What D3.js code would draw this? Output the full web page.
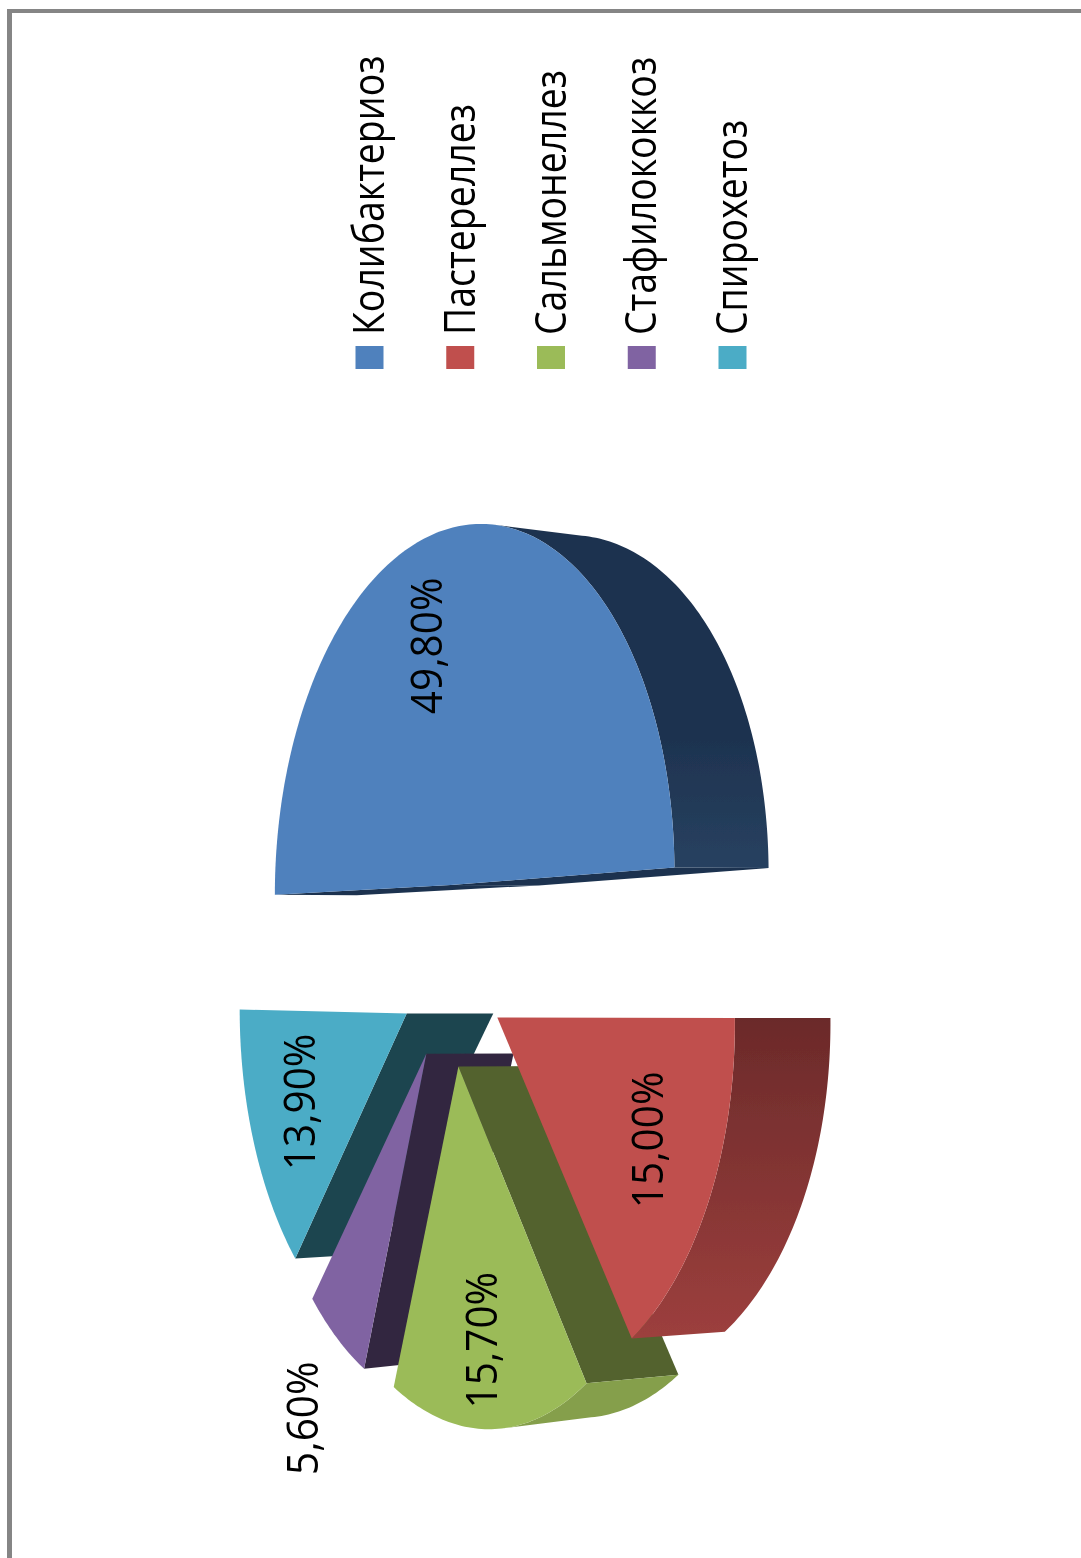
<!DOCTYPE html>
<html><head><meta charset="utf-8">
<script src="https://cdn.jsdelivr.net/npm/d3@7"></script>
<style>html,body{margin:0;padding:0;background:#fff}svg{display:block}text{font-family:"Open Sans",sans-serif;fill:#000}</style>
</head><body><div id="chart"></div>
<script>
// ---- data ----
const categories = ["Колибактериоз","Пастереллез","Сальмонеллез","Стафилококкоз","Спирохетоз"];
const values = [49.8,15.0,15.7,5.6,13.9];
const valueLabels = ["49,80%","15,00%","15,70%","5,60%","13,90%"];
const topColors = ["#4F81BD","#C0504D","#9BBB59","#8064A2","#4BACC6"];
const edgeColors = ["#1C3350","#6B2A2A","#52622E","#33273F","#1E454F"];
const rimFrom = ["#1E3350","#6B2A2A","#859F4B","#33273F","#1E454F"];
const rimTo = ["#284261","#9C3F3D","#859F4B","#33273F","#1E454F"];
const labelRadius = [0.695,0.723,0.758,1.341,0.68];
const labelTurn = [-10,-2,0,1.8,0.6];

// ---- layout ----
const W=1081,H=1558, explode=0.255, persp=0.12;
const sx=d3.scaleLinear().domain([0,1]).range([451,451+197]);
const sy=d3.scaleLinear().domain([0,1]).range([976,976-357]);
const depth=d3.scaleLinear().domain([-1.3,1.3]).range([80,96]);
function project(a,b,z){
  const w=1/(1-persp*b);
  const p=[sx(b*w), sy(a*w*(1-0.02*z*Math.abs(a)))];
  if(z) p[0]+=depth(b);
  return p;
}
const cross=(o,p,q)=>(p[0]-o[0])*(q[1]-o[1])-(p[1]-o[1])*(q[0]-o[0]);
const svg=d3.select("#chart").append("svg").attr("width",W).attr("height",H);
const defs=svg.append("defs");
defs.append("filter").attr("id","soft").attr("x",0).attr("y",0).attr("width",1).attr("height",1)
  .attr("filterUnits","objectBoundingBox")
  .append("feGaussianBlur").attr("stdDeviation",0.5);
const root=svg.append("g").attr("filter","url(#soft)");
root.append("rect").attr("width",W).attr("height",H).attr("fill","#fff");
// frame
root.append("rect").attr("x",7).attr("y",9).attr("width",W).attr("height",4).attr("fill","#858585");
root.append("rect").attr("x",7).attr("y",9).attr("width",5).attr("height",H).attr("fill","#858585");

const pie=d3.pie().sort(null).value(d=>d).startAngle(0).endAngle(2*Math.PI);
const arcs=pie(values);
const line=d3.line().curve(d3.curveLinear);
const order=[4,3,2,1,0];
order.forEach(i=>{
  const s=arcs[i], mid=(s.startAngle+s.endAngle)/2;
  const ca=Math.sin(mid)*explode, cb=-Math.cos(mid)*explode;
  const n=Math.max(8,Math.ceil((s.endAngle-s.startAngle)*60));
  const thetas=d3.range(n+1).map(k=>s.startAngle+(s.endAngle-s.startAngle)*k/n);
  const rim=z=>thetas.map(t=>project(ca+Math.sin(t),cb-Math.cos(t),z));
  const a0=project(ca,cb,0), a1=project(ca,cb,1);
  const top=rim(0), bot=rim(1), inner=top[n>>1];
  const g=root.append("g");
  // radial walls: drawn only if the wall falls outside the top face and is not edge-on
  [[top[n],bot[n]],[top[0],bot[0]]].forEach(([t,b])=>{
    const quad=[a0,t,b,a1];
    const len=Math.hypot(t[0]-a0[0],t[1]-a0[1]);
    const outside=cross(a0,t,inner)*cross(a0,t,a1)<0;
    if(outside && Math.abs(d3.polygonArea(quad))/len>3)
      g.append("path").attr("d",line(quad)+"Z").attr("fill",edgeColors[i]);
  });
  // outer wall: the run of rim facing the viewer, closed along its tangent to the bottom edge
  const gid="rim"+i;
  const lg=defs.append("linearGradient").attr("id",gid).attr("gradientUnits","userSpaceOnUse")
    .attr("x1",0).attr("x2",0)
    .attr("y1",i===0?740:1017).attr("y2",i===0?875:1335);
  lg.append("stop").attr("offset",0).attr("stop-color",rimFrom[i]);
  lg.append("stop").attr("offset",1).attr("stop-color",rimTo[i]);
  const vis=d3.range(n+1).filter(k=>-Math.cos(thetas[k])>0.2);
  if(vis.length>1){
    const outline=vis.map(k=>top[k]).concat(vis.slice().reverse().map(k=>bot[k]));
    g.append("path").attr("d",line(outline)+"Z").attr("fill",`url(#${gid})`);
  }
  // top face
  g.append("path").attr("d",line([a0].concat(top))+"Z").attr("fill",topColors[i]);
});
// value labels
arcs.forEach((s,i)=>{
  const mid=(s.startAngle+s.endAngle)/2, t=mid+labelTurn[i]*Math.PI/180;
  const ca=Math.sin(mid)*explode, cb=-Math.cos(mid)*explode;
  const p=project(ca+Math.sin(t)*labelRadius[i],cb-Math.cos(t)*labelRadius[i],0);
  root.append("text").attr("transform",`translate(${p[0]},${p[1]}) rotate(-90) scale(0.92,1)`)
    .attr("text-anchor","middle").attr("dy","0.36em").attr("font-size",44).text(valueLabels[i]);
});
// legend
const lx=d3.scalePoint().domain(categories).range([369.5,732.5]);
categories.forEach((c,i)=>{
  root.append("rect").attr("x",lx(c)-14).attr("y",346).attr("width",28).attr("height",23).attr("fill",topColors[i]);
  root.append("text").attr("transform",`translate(${lx(c)+14.5},335) rotate(-90) scale(0.872,1)`)
    .attr("font-size",43).text(c);
});
</script></body></html>
